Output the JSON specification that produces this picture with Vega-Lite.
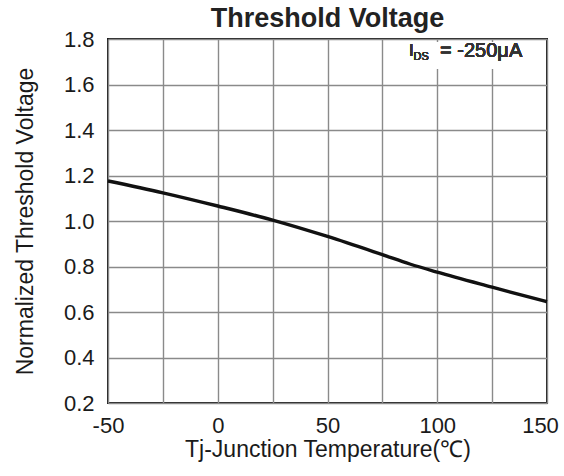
{
  "$schema": "https://vega.github.io/schema/vega-lite/v6.json",
  "width": 439,
  "height": 364,
  "autosize": "none",
  "padding": {"left": 108, "top": 39, "right": 17, "bottom": 73},
  "background": "white",
  "config": {
    "font": "Liberation Sans",
    "view": {"stroke": "#1a1a1a", "strokeWidth": 2},
    "axis": {
      "domain": false,
      "ticks": false,
      "grid": true,
      "gridColor": "#8a8a8a",
      "gridWidth": 1.4,
      "labelFont": "Liberation Sans",
      "titleFont": "Liberation Sans",
      "labelColor": "#1a1a1a",
      "titleColor": "#1a1a1a",
      "titleFontWeight": "normal"
    }
  },
  "title": {
    "text": "Threshold Voltage",
    "font": "Liberation Sans",
    "fontSize": 27,
    "fontWeight": "bold",
    "color": "#222222",
    "offset": -5
  },
  "data": {
    "values": [
      {"t": -50, "v": 1.176},
      {"t": -25, "v": 1.124},
      {"t": 0, "v": 1.066},
      {"t": 25, "v": 1.004},
      {"t": 50, "v": 0.932},
      {"t": 75, "v": 0.852},
      {"t": 87.5, "v": 0.811},
      {"t": 100, "v": 0.775},
      {"t": 125, "v": 0.709},
      {"t": 150, "v": 0.645}
    ]
  },
  "layer": [
    {
      "mark": {"type": "rect", "color": "white"},
      "encoding": {
        "x": {"datum": 81, "type": "quantitative", "scale": {"domain": [-50, 150]}},
        "x2": {"datum": 145},
        "y": {"datum": 1.67, "type": "quantitative", "scale": {"domain": [0.2, 1.8]}},
        "y2": {"datum": 1.785}
      }
    },
    {
      "mark": {"type": "line", "color": "#111111", "strokeWidth": 3.4, "interpolate": "monotone"},
      "encoding": {
        "x": {
          "field": "t",
          "type": "quantitative",
          "scale": {"domain": [-50, 150], "nice": false, "zero": false},
          "axis": {
            "values": [-50, -37.5, -25, -12.5, 0, 12.5, 25, 37.5, 50, 62.5, 75, 87.5, 100, 112.5, 125, 137.5, 150],
            "labelExpr": "datum.value % 50 === 0 ? '' + datum.value : ''",
            "labelOverlap": false,
            "labelFlush": false,
            "labelBound": false,
            "labelFontSize": 22,
            "labelPadding": 12,
            "labelOffset": {"condition": {"test": "datum.value === 150", "value": -7}, "value": 0},
            "title": "Tj-Junction Temperature(℃)",
            "titleFontSize": 23,
            "titlePadding": 2
          }
        },
        "y": {
          "field": "v",
          "type": "quantitative",
          "scale": {"domain": [0.2, 1.8], "nice": false, "zero": false},
          "axis": {
            "values": [0.2, 0.3, 0.4, 0.5, 0.6, 0.7, 0.8, 0.9, 1.0, 1.1, 1.2, 1.3, 1.4, 1.5, 1.6, 1.7, 1.8],
            "format": ".1f",
            "labelExpr": "round(datum.value * 10) % 2 === 0 ? datum.label : ''",
            "labelOverlap": false,
            "labelFlush": false,
            "labelBound": false,
            "labelFontSize": 22,
            "labelPadding": 14,
            "title": "Normalized Threshold Voltage",
            "titleFontSize": 23,
            "titlePadding": 26
          }
        }
      }
    },
    {
      "mark": {"type": "text", "text": "I", "fontSize": 17, "align": "left", "baseline": "middle", "color": "#333333", "font": "Liberation Sans"},
      "encoding": {
        "x": {"datum": 87.1, "type": "quantitative"},
        "y": {"datum": 1.747, "type": "quantitative"}
      }
    },
    {
      "mark": {"type": "text", "text": "DS", "fontSize": 11, "align": "left", "baseline": "middle", "color": "#333333", "font": "Liberation Sans"},
      "encoding": {
        "x": {"datum": 89.2, "type": "quantitative"},
        "y": {"datum": 1.722, "type": "quantitative"}
      }
    },
    {
      "mark": {"type": "text", "text": "= -250μA", "fontSize": 20, "align": "left", "baseline": "middle", "color": "#333333", "font": "Liberation Sans"},
      "encoding": {
        "x": {"datum": 101.3, "type": "quantitative"},
        "y": {"datum": 1.747, "type": "quantitative"}
      }
    }
  ]
}
